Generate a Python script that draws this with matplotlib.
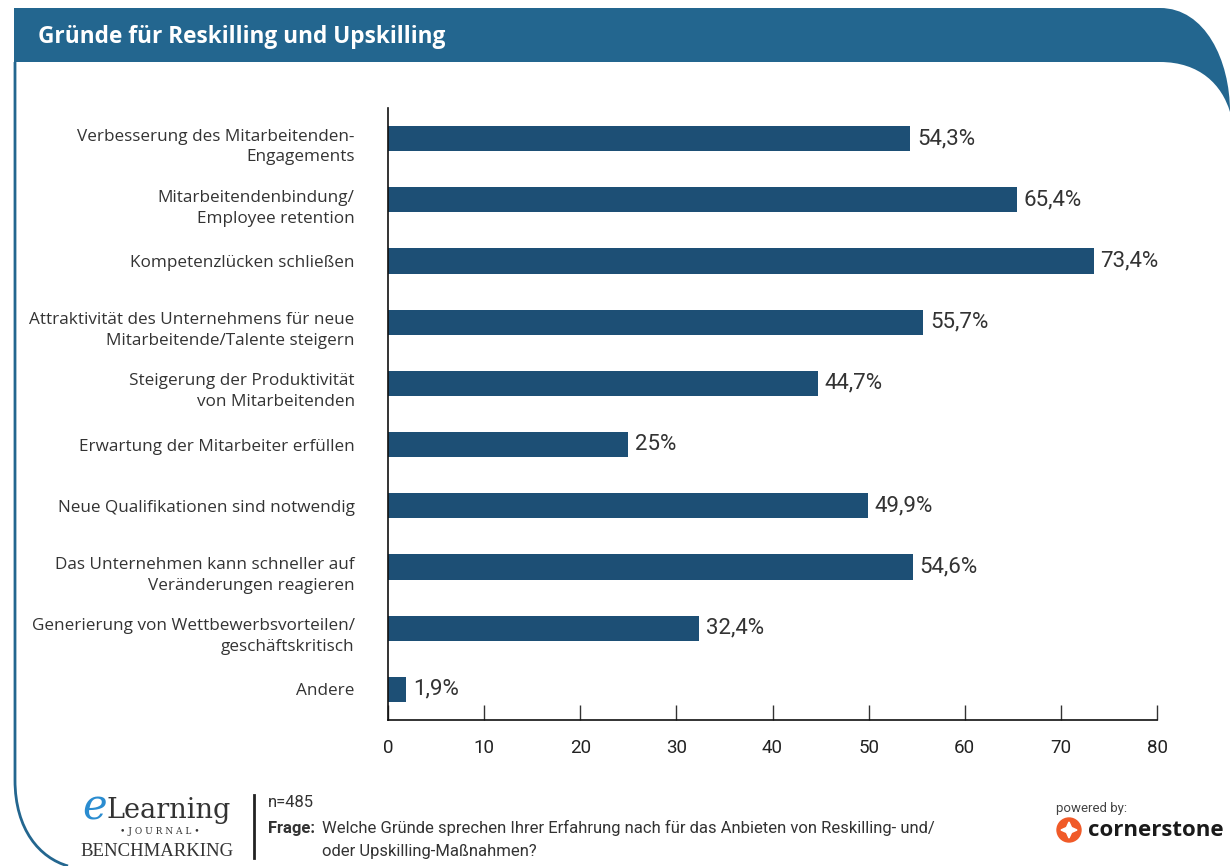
import numpy as np
import matplotlib
matplotlib.use("Agg")
import matplotlib.pyplot as plt
import matplotlib.transforms as mtransforms
from matplotlib.path import Path
from matplotlib.patches import PathPatch, Circle, Polygon

# survey answers, top to bottom
categories = [
    "Verbesserung des Mitarbeitenden-\nEngagements",
    "Mitarbeitendenbindung/\nEmployee retention",
    "Kompetenzlücken schließen",
    "Attraktivität des Unternehmens für neue\nMitarbeitende/Talente steigern",
    "Steigerung der Produktivität\nvon Mitarbeitenden",
    "Erwartung der Mitarbeiter erfüllen",
    "Neue Qualifikationen sind notwendig",
    "Das Unternehmen kann schneller auf\nVeränderungen reagieren",
    "Generierung von Wettbewerbsvorteilen/\ngeschäftskritisch",
    "Andere",
]
values = [54.3, 65.4, 73.4, 55.7, 44.7, 25, 49.9, 54.6, 32.4, 1.9]
value_labels = ["54,3%", "65,4%", "73,4%", "55,7%", "44,7%", "25%", "49,9%", "54,6%", "32,4%", "1,9%"]
x_ticks = [0, 10, 20, 30, 40, 50, 60, 70, 80]

BAR = "#1d4f75"
FRAME = "#23668f"
NARROW = ["Roboto", "DejaVu Sans"]
LABEL_FONT = ["Open Sans", "DejaVu Sans"]

W, H = 1230, 866
fig = plt.figure(figsize=(W / 100, H / 100), dpi=100)

# frame decoration in pixel coordinates
deco = fig.add_axes([0, 0, 1, 1])
deco.set_xlim(0, W)
deco.set_ylim(H, 0)
deco.axis("off")

band = Path(
    [(14, 8), (1160, 8), (1205, 8), (1230, 60), (1230, 112),
     (1222, 85), (1200, 62), (1160, 62), (14, 62), (14, 8)],
    [Path.MOVETO, Path.LINETO, Path.CURVE4, Path.CURVE4, Path.CURVE4,
     Path.CURVE4, Path.CURVE4, Path.CURVE4, Path.LINETO, Path.CLOSEPOLY],
)
deco.add_patch(PathPatch(band, facecolor=FRAME, edgecolor="none"))

border = Path(
    [(15, 62), (15, 780), (15, 830), (40, 858), (68, 866)],
    [Path.MOVETO, Path.LINETO, Path.CURVE4, Path.CURVE4, Path.CURVE4],
)
deco.add_patch(PathPatch(border, facecolor="none", edgecolor=FRAME, lw=2))

deco.text(38, 37, "Gründe für Reskilling und Upskilling", color="white",
          fontsize=16.3, fontweight="bold", family=LABEL_FONT, va="center")

# footer: logo, question, sponsor
deco.text(82, 820, "e", color="#2a8cd0", fontsize=30, family="DejaVu Serif",
          style="italic", va="baseline")
deco.text(106, 818, "Learning", color="#333333", fontsize=19.5, family="DejaVu Serif",
          va="baseline")
deco.text(160, 832, "• J O U R N A L •", color="#333333", fontsize=6.5,
          family="DejaVu Serif", va="center", ha="center")
deco.text(80, 856, "BENCHMARKING", color="#333333", fontsize=13.5,
          family="Liberation Serif", va="baseline")
deco.plot([254, 254], [795, 858], color="#222222", lw=2)

deco.text(268, 807, "n=485", fontsize=12, family=NARROW, color="#333333", va="baseline")
deco.text(268, 833, "Frage:", fontsize=12, family=NARROW, color="#333333",
          fontweight="bold", va="baseline")
deco.text(322, 833, "Welche Gründe sprechen Ihrer Erfahrung nach für das Anbieten von Reskilling- und/",
          fontsize=12, family=NARROW, color="#333333", va="baseline")
deco.text(322, 856, "oder Upskilling-Maßnahmen?", fontsize=12, family=NARROW,
          color="#333333", va="baseline")

deco.text(1056, 812, "powered by:", fontsize=9.5, family=NARROW, color="#444444", va="baseline")
deco.add_patch(Circle((1069, 830), 12, color="#f05a28"))
star = [(1069, 822), (1071.5, 827.5), (1077, 830), (1071.5, 832.5),
        (1069, 838), (1066.5, 832.5), (1061, 830), (1066.5, 827.5)]
deco.add_patch(Polygon(star, closed=True, color="white"))
deco.text(1088, 830, "cornerstone", fontsize=16, fontweight="bold",
          family=LABEL_FONT, color="#1a1a1a", va="center")

# bar chart
ax = fig.add_axes([388 / W, 1 - 720 / H, (1157 - 388) / W, (720 - 108) / H])
ax.patch.set_alpha(0)
y = np.arange(len(categories))
ax.barh(y, values, height=0.41, color=BAR)
for yi, v, lab in zip(y, values, value_labels):
    ax.annotate(lab, (v, yi), xytext=(5, 0), textcoords="offset points",
                va="center", ha="left", fontsize=16, family=NARROW,
                color="#333333")

ax.set_xlim(0, 80)
ax.set_ylim(len(categories) - 0.5, -0.5)
ax.set_xticks(x_ticks)
ax.set_xticklabels([str(t) for t in x_ticks], family=NARROW, fontsize=13.5, color="#222222")
ax.tick_params(axis="x", direction="in", length=11, width=1, pad=14, color="#333333")
ax.set_yticks(y)
ax.set_yticklabels(categories, family=LABEL_FONT, fontsize=12.3, color="#333333",
                   linespacing=1.4)
ax.tick_params(axis="y", length=0, pad=24)
# two-line labels sit a little below the bar centre
shift = mtransforms.ScaledTranslation(0, -4 / 100, fig.dpi_scale_trans)
for lbl in ax.get_yticklabels():
    if "\n" in lbl.get_text():
        lbl.set_transform(lbl.get_transform() + shift)
for s in ["top", "right"]:
    ax.spines[s].set_visible(False)
for s in ["left", "bottom"]:
    ax.spines[s].set_color("#111111")
    ax.spines[s].set_linewidth(1.2)

fig.savefig("out.png", dpi=100)
